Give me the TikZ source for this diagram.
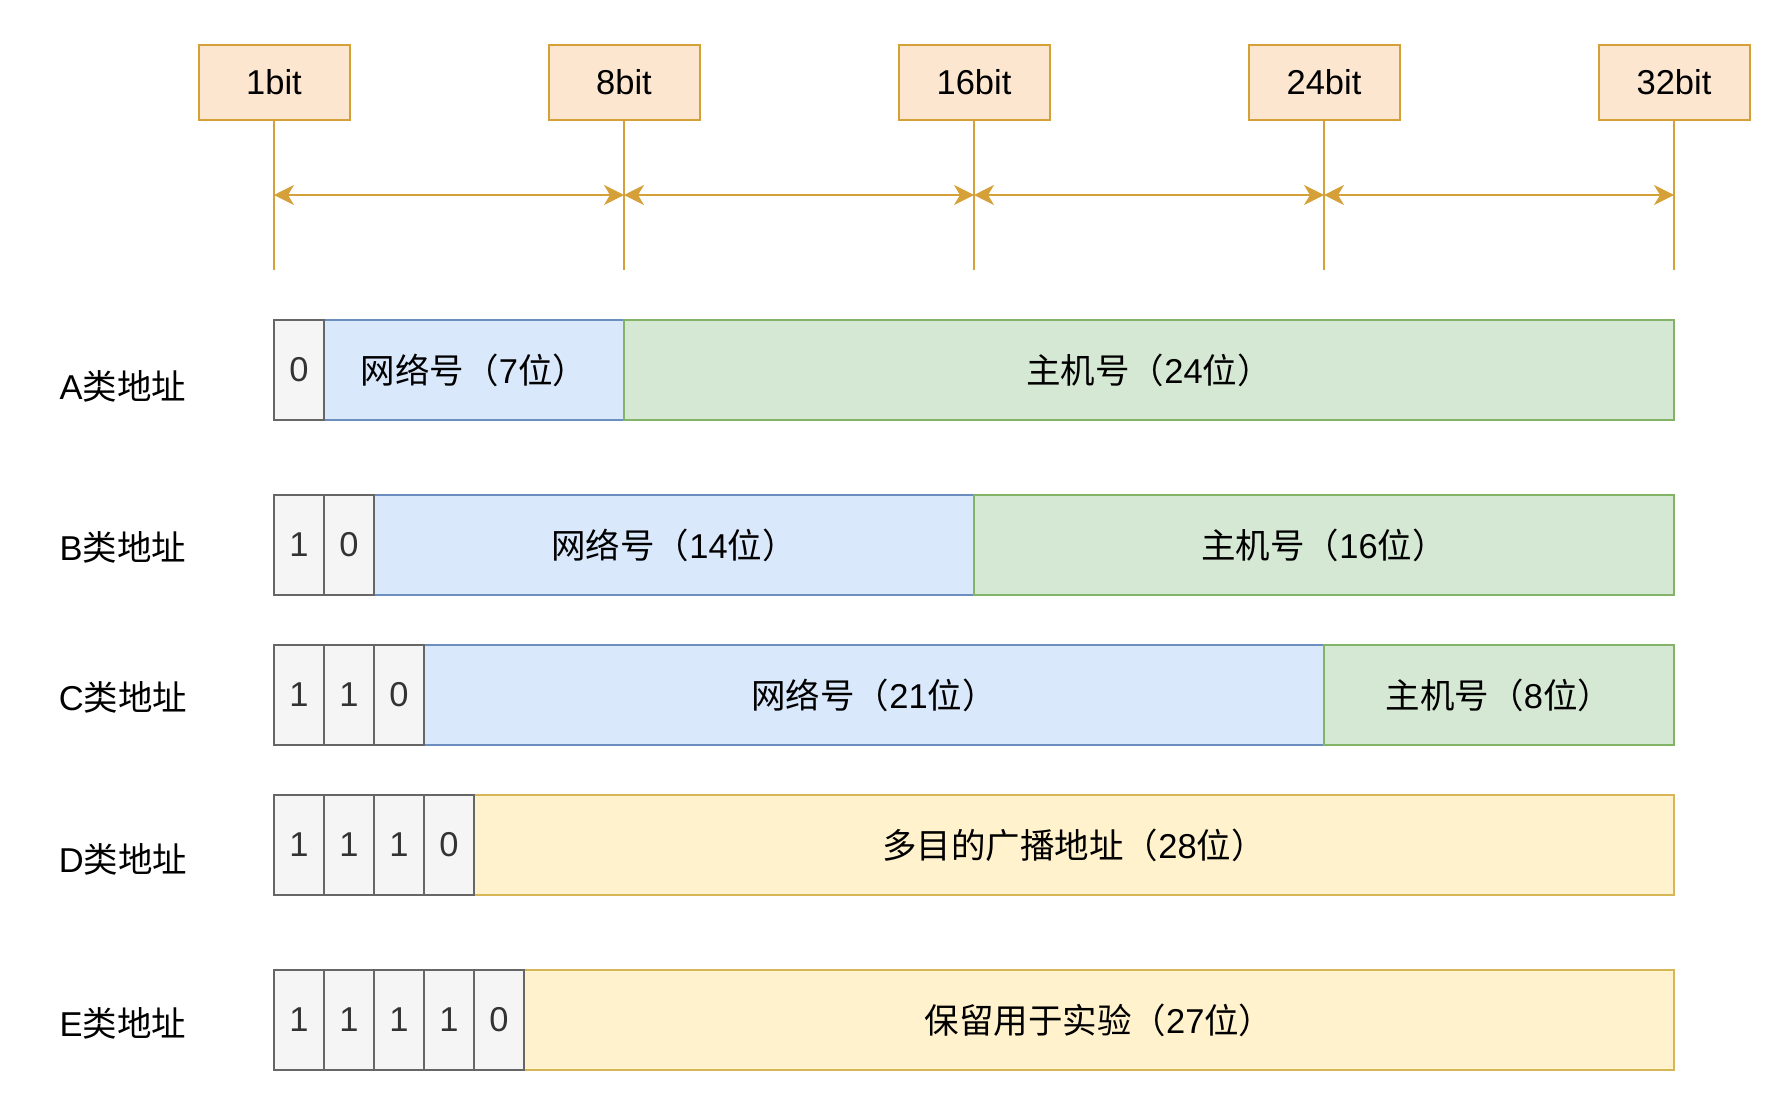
\documentclass[tikz,border=0pt]{standalone}
\usepackage{fontspec}
\setmainfont{Liberation Sans}
\newfontfamily\cjk{Noto Sans CJK SC}
\usetikzlibrary{arrows.meta}
\definecolor{topfill}{HTML}{FCE6CF}
\definecolor{gold}{HTML}{D4A037}
\definecolor{bluefill}{HTML}{DAE8FC}
\definecolor{bluedraw}{HTML}{6C8EBF}
\definecolor{greenfill}{HTML}{D5E8D4}
\definecolor{greendraw}{HTML}{82B366}
\definecolor{yelfill}{HTML}{FFF2CC}
\definecolor{yeldraw}{HTML}{D6B656}
\definecolor{greyfill}{HTML}{F5F5F5}
\definecolor{greydraw}{HTML}{666666}
\definecolor{greytext}{HTML}{333333}
\newcommand{\zh}[1]{{\cjk #1}}
\begin{document}
\begin{tikzpicture}[x=1pt,y=-1pt,
  every node/.style={font=\fontsize{34.5}{40}\selectfont, inner sep=0pt, outer sep=0pt},
  bitbox/.style={draw=gold, fill=topfill, line width=2pt, minimum width=151pt, minimum height=75pt},
  guide/.style={draw=gold, line width=2pt},
  span/.style={draw=gold, line width=2pt, {Stealth[length=20pt,width=20pt,inset=6pt]}-{Stealth[length=20pt,width=20pt,inset=6pt]}},
  cell/.style={draw=greydraw, fill=greyfill, text=greytext, line width=2pt, minimum width=50pt, minimum height=100pt, anchor=north west},
  netf/.style={draw=bluedraw, fill=bluefill, line width=2pt, minimum height=100pt, anchor=north west},
  hostf/.style={draw=greendraw, fill=greenfill, line width=2pt, minimum height=100pt, anchor=north west},
  yelf/.style={draw=yeldraw, fill=yelfill, line width=2pt, minimum height=100pt, anchor=north west},
  rowlabel/.style={anchor=center}
]
\useasboundingbox (0,0) rectangle (1784,1106);
% top bit markers
\foreach \n/\x/\t in {b1/274/1bit, b8/624/8bit, b16/974/16bit, b24/1324/24bit, b32/1674/32bit}{
  \node[bitbox] (\n) at (\x,82.5) {\t};
  \coordinate (\n e) at (\x,270);
  \coordinate (\n m) at (\x,195);
  \draw[guide] (\n.south) -- (\n e);
}
\draw[span] (b1m) -- (b8m);
\draw[span] (b8m) -- (b16m);
\draw[span] (b16m) -- (b24m);
\draw[span] (b24m) -- (b32m);

% row labels
\node[rowlabel] (la) at (123,386) {A\zh{类地址}};
\node[rowlabel] (lb) at (123,547) {B\zh{类地址}};
\node[rowlabel] (lc) at (123,697) {C\zh{类地址}};
\node[rowlabel] (ld) at (123,859) {D\zh{类地址}};
\node[rowlabel] (le) at (123,1023) {E\zh{类地址}};

% A
\node[netf, minimum width=300pt] (anet) at (324,320) {\zh{网络号（}7\zh{位）}};
\node[hostf, minimum width=1050pt] (ahost) at (624,320) {\zh{主机号（}24\zh{位）}};
\node[cell] (a0) at (274,320) {0};

% B
\node[netf, minimum width=600pt] (bnet) at (374,495) {\zh{网络号（}14\zh{位）}};
\node[hostf, minimum width=700pt] (bhost) at (974,495) {\zh{主机号（}16\zh{位）}};
\node[cell] (b0) at (274,495) {1};
\node[cell] (b1c) at (324,495) {0};

% C
\node[netf, minimum width=900pt] (cnet) at (424,645) {\zh{网络号（}21\zh{位）}};
\node[hostf, minimum width=350pt] (chost) at (1324,645) {\zh{主机号（}8\zh{位）}};
\node[cell] (c0) at (274,645) {1};
\node[cell] (c1) at (324,645) {1};
\node[cell] (c2) at (374,645) {0};

% D
\node[yelf, minimum width=1200pt] (dmc) at (474,795) {\zh{多目的广播地址（}28\zh{位）}};
\node[cell] (d0) at (274,795) {1};
\node[cell] (d1) at (324,795) {1};
\node[cell] (d2) at (374,795) {1};
\node[cell] (d3) at (424,795) {0};

% E
\node[yelf, minimum width=1150pt] (eres) at (524,970) {\zh{保留用于实验（}27\zh{位）}};
\node[cell] (e0) at (274,970) {1};
\node[cell] (e1) at (324,970) {1};
\node[cell] (e2) at (374,970) {1};
\node[cell] (e3) at (424,970) {1};
\node[cell] (e4) at (474,970) {0};
\end{tikzpicture}
\end{document}
